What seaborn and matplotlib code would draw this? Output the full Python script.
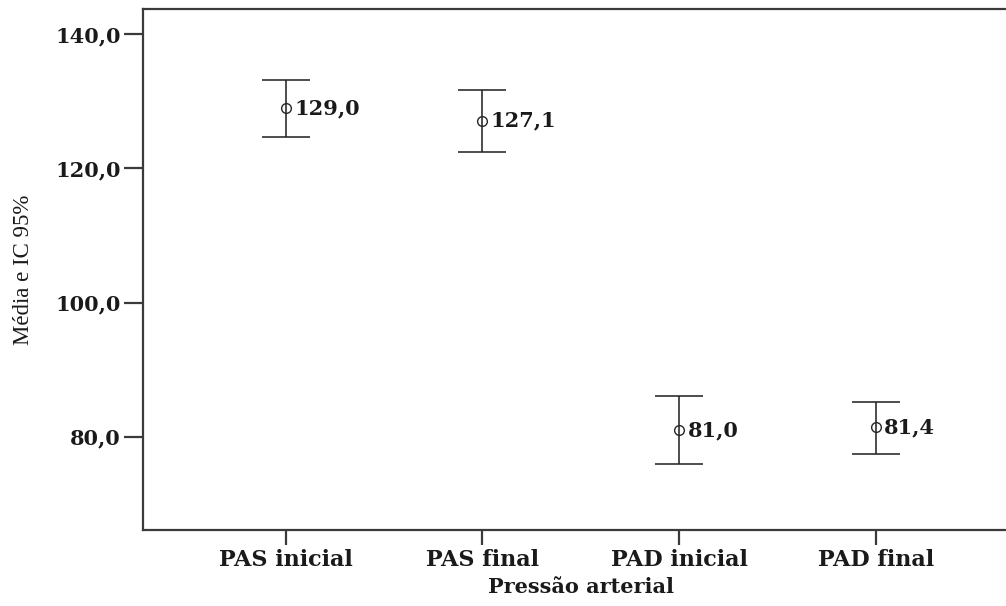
import matplotlib
matplotlib.use("Agg")
import matplotlib.pyplot as plt
import seaborn as sns
import pandas as pd
from matplotlib.ticker import FuncFormatter

# ---- data ----
categories = ["PAS inicial", "PAS final", "PAD inicial", "PAD final"]
means = [129.0, 127.1, 81.0, 81.4]
ci_low = [124.7, 122.4, 76.0, 77.5]
ci_high = [133.2, 131.7, 86.1, 85.2]
y_ticks = [80, 100, 120, 140]
x_title = "Pressão arterial"
y_title = "Média e IC 95%"

sns.set_style("ticks")
plt.rcParams["font.family"] = ["DejaVu Serif"]

fig = plt.figure(figsize=(10.06, 6.06), dpi=100)
fig.patch.set_facecolor("white")
ax = fig.add_axes([0.1418, 0.1254, 0.8711, 0.8593])

df = pd.DataFrame({x_title: categories, y_title: means})
line_col = "#262626"

sns.pointplot(data=df, x=x_title, y=y_title, order=categories, errorbar=None,
              linestyle="none", marker="o", color=line_col,
              markerfacecolor="none", markeredgecolor=line_col,
              markersize=7, markeredgewidth=1.0, ax=ax)

xpos = list(range(len(categories)))
yerr = [[m - lo for m, lo in zip(means, ci_low)],
        [hi - m for m, hi in zip(means, ci_high)]]
ax.errorbar(xpos, means, yerr=yerr, fmt="none", ecolor=line_col,
            elinewidth=1.15, capsize=17.5, capthick=1.15, zorder=2)

for x, m in zip(xpos, means):
    ax.annotate(f"{m:.1f}".replace(".", ","), xy=(x, m), xytext=(6, 0),
                textcoords="offset points", ha="left", va="center",
                fontsize=15, fontweight="bold", color="#1a1a1a")

ax.set_xlim(-0.727, 3.727)
ax.set_ylim(66.1, 143.7)
ax.set_yticks(y_ticks)
ax.yaxis.set_major_formatter(FuncFormatter(lambda v, p: f"{v:.1f}".replace(".", ",")))

for s in ["left", "top", "bottom"]:
    ax.spines[s].set_linewidth(1.6)
    ax.spines[s].set_color("#3a3a3a")
ax.spines["right"].set_visible(False)

ax.tick_params(axis="y", length=13.5, width=1.6, color="#3a3a3a", pad=2,
               labelsize=15, labelcolor="#1a1a1a")
ax.tick_params(axis="x", length=11, width=1.6, color="#3a3a3a", pad=3,
               labelsize=16, labelcolor="#1a1a1a")
for lab in ax.get_yticklabels() + ax.get_xticklabels():
    lab.set_fontweight("bold")

ax.set_xlabel(x_title, fontsize=15, fontweight="bold", color="#1a1a1a")
ax.xaxis.set_label_coords(0.5, -0.09)
ax.set_ylabel(y_title, fontsize=16.5, family=["Liberation Serif"], color="#1a1a1a",
              va="center")
ax.yaxis.set_label_coords(-0.1355, 0.5)

fig.savefig("out.png", dpi=100, facecolor="white")
